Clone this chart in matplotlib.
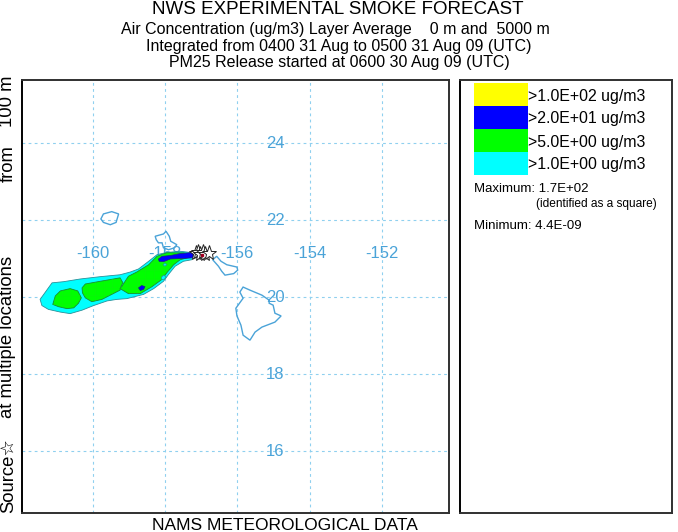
import matplotlib
matplotlib.use('Agg')
import matplotlib.pyplot as plt

plt.rcParams['font.family'] = ['Liberation Sans', 'DejaVu Sans']
plt.rcParams['hatch.linewidth'] = 0.25

W, H = 678, 532
line_blue = '#4aa3d8'
grid_blue = '#8fd0ef'
frame = '#303030'

lon_ticks = [-160, -158, -156, -154, -152]
lat_ticks = [16, 18, 20, 22, 24]
legend_labels = ['>1.0E+02 ug/m3', '>2.0E+01 ug/m3', '>5.0E+00 ug/m3', '>1.0E+00 ug/m3']
legend_colors = ['#ffff00', '#0000ff', '#00ff00', '#00ffff']

# coastlines
kauai_lon = [-159.77, -159.70, -159.47, -159.28, -159.35, -159.51, -159.70]
kauai_lat = [22.03, 22.16, 22.22, 22.16, 21.94, 21.88, 21.94]
oahu_lon = [-158.27, -158.04, -157.97, -157.88, -157.84, -157.67, -157.74, -157.90, -158.04, -158.08, -158.18, -158.24]
oahu_lat = [21.58, 21.64, 21.71, 21.58, 21.45, 21.36, 21.28, 21.23, 21.28, 21.41, 21.41, 21.49]
maui_lon = [-156.68, -156.57, -156.45, -156.29, -156.01, -155.99, -156.10, -156.34, -156.43, -156.52]
maui_lat = [20.97, 21.06, 20.93, 20.84, 20.78, 20.70, 20.61, 20.57, 20.67, 20.80]
hawaii_lon = [-155.84, -155.65, -155.32, -155.12, -155.12, -155.01, -154.96, -154.79, -154.96, -155.32, -155.51, -155.65, -155.84, -155.90, -156.01, -156.04, -155.84, -155.93]
hawaii_lat = [20.26, 20.18, 20.05, 19.92, 19.84, 19.79, 19.58, 19.51, 19.35, 19.22, 19.09, 18.88, 19.01, 19.27, 19.51, 19.71, 19.97, 20.13]

# smoke contours
cyan_lon = [-161.45, -161.35, -161.22, -161.12, -160.80, -160.34, -159.79, -159.24, -158.96, -158.73, -158.45, -158.22, -157.95, -157.58, -157.21, -157.12, -157.26, -157.49, -157.72, -157.90, -158.04, -158.31, -158.59, -159.05, -159.33, -159.60, -159.97, -160.29, -160.62, -160.89, -161.22, -161.40]
cyan_lat = [19.94, 20.07, 20.24, 20.37, 20.40, 20.47, 20.53, 20.58, 20.65, 20.73, 20.93, 21.10, 21.16, 21.19, 21.15, 21.10, 20.97, 20.93, 20.80, 20.59, 20.41, 20.22, 20.07, 19.96, 19.94, 19.90, 19.78, 19.66, 19.57, 19.61, 19.68, 19.78]
green1_lon = [-161.10, -161.03, -160.89, -160.62, -160.41, -160.31, -160.39, -160.52, -160.71, -160.94]
green1_lat = [19.81, 20.03, 20.16, 20.22, 20.16, 19.98, 19.84, 19.72, 19.70, 19.75]
green2_lon = [-160.29, -160.20, -159.79, -159.42, -159.24, -159.16, -159.22, -159.24, -159.47, -159.74, -160.02, -160.20, -160.28]
green2_lat = [20.24, 20.34, 20.41, 20.47, 20.50, 20.37, 20.27, 20.18, 20.07, 19.94, 19.88, 19.98, 20.11]
green3_lon = [-159.19, -159.01, -158.78, -158.45, -158.22, -157.95, -157.49, -157.21, -157.30, -157.58, -157.76, -157.95, -158.08, -158.36, -158.68, -159.01, -159.24]
green3_lat = [20.28, 20.54, 20.65, 20.84, 21.06, 21.15, 21.15, 21.10, 21.04, 20.97, 20.84, 20.63, 20.46, 20.27, 20.09, 20.09, 20.22]
hole1_lon = [-158.10, -158.03, -157.97, -158.02, -158.09]
hole1_lat = [20.52, 20.57, 20.52, 20.46, 20.46]
hole2_lon = [-158.05, -158.00, -157.95, -158.00]
hole2_lat = [20.84, 20.88, 20.84, 20.80]
blue1_lon = [-158.18, -158.08, -157.85, -157.58, -157.21, -156.93, -156.93, -157.21, -157.58, -157.85, -158.04, -158.16]
blue1_lat = [20.99, 21.06, 21.08, 21.13, 21.16, 21.15, 21.04, 21.02, 21.00, 20.99, 20.92, 20.93]
blue2_lon = [-158.73, -158.64, -158.55, -158.59, -158.68]
blue2_lat = [20.24, 20.30, 20.27, 20.20, 20.17]
source_lon = [-157.15, -157.08, -157.02, -156.95, -156.90, -156.78]
source_lat = [21.15, 21.18, 21.13, 21.16, 21.12, 21.14]
max_lon = [-156.98]
max_lat = [21.10]

fig = plt.figure(figsize=(W / 100, H / 100), dpi=100)

ax = fig.add_axes([22 / W, 1 - 513 / H, (449 - 22) / W, (513 - 80) / H])
ax.set_xlim(-161.95, -150.15)
ax.set_ylim(14.39, 25.64)
ax.set_xticks([])
ax.set_yticks([])
for s in ax.spines.values():
    s.set_linewidth(1.4)
    s.set_color(frame)
ax.spines['left'].set_color('black')

for lon in lon_ticks:
    ax.axvline(lon, color=grid_blue, lw=0.8, ls=(0, (2.5, 3)), zorder=1)
    ax.text(lon, 21.12, str(lon), color=line_blue, fontsize=12, ha='center', va='center', zorder=2)
for lat in lat_ticks:
    ax.axhline(lat, color=grid_blue, lw=0.8, ls=(0, (2.5, 3)), zorder=1)
    ax.text(-154.95, lat, str(lat), color=line_blue, fontsize=12, ha='center', va='center', zorder=2)

for lons, lats in [(kauai_lon, kauai_lat), (oahu_lon, oahu_lat), (maui_lon, maui_lat), (hawaii_lon, hawaii_lat)]:
    ax.fill(lons, lats, facecolor='none', edgecolor=line_blue, lw=1.0, zorder=3)

ax.fill(cyan_lon, cyan_lat, facecolor='#00ffff', edgecolor='#2a8f99', lw=0.6, joinstyle='round', zorder=4)
for lons, lats in [(green1_lon, green1_lat), (green2_lon, green2_lat), (green3_lon, green3_lat)]:
    ax.fill(lons, lats, facecolor='#00ff00', edgecolor='#1a8a30', lw=0.6, joinstyle='round', zorder=5)
    ax.fill(lons, lats, facecolor='none', edgecolor='#10ee10', hatch='++', lw=0, zorder=5)
for lons, lats in [(hole1_lon, hole1_lat), (hole2_lon, hole2_lat)]:
    ax.fill(lons, lats, facecolor='#00ffff', edgecolor='#2a8f99', lw=0.5, zorder=6)
for lons, lats in [(blue1_lon, blue1_lat), (blue2_lon, blue2_lat)]:
    ax.fill(lons, lats, facecolor='#0000ff', edgecolor='#202080', lw=0.5, zorder=7)

ax.plot(source_lon, source_lat, ls='none', marker='*', ms=11, mfc='white', mec='#222222', mew=0.7, zorder=8)
ax.plot(max_lon, max_lat, ls='none', marker='s', ms=2, color='#a00020', zorder=9)

# legend panel, in pixels
leg = fig.add_axes([460 / W, 1 - 513 / H, (672 - 460) / W, (513 - 80) / H])
leg.set_xlim(460, 672)
leg.set_ylim(513, 80)
leg.set_xticks([])
leg.set_yticks([])
for s in leg.spines.values():
    s.set_linewidth(1.4)
    s.set_color(frame)
leg.spines['left'].set_color('black')
for i in range(len(legend_labels)):
    leg.bar(501, 23, width=54, bottom=83 + i * 23, color=legend_colors[i], linewidth=0)
    leg.text(528, 96 + i * 23, legend_labels[i], fontsize=11.4, va='center', ha='left')
leg.text(474, 189, 'Maximum: 1.7E+02', fontsize=9.5, va='center')
leg.text(536, 204, '(identified as a square)', fontsize=8.6, va='center')
leg.text(474, 226, 'Minimum: 4.4E-09', fontsize=9.5, va='center')

fig.text(338 / W, 1 - 13.5 / H, 'NWS EXPERIMENTAL SMOKE FORECAST', fontsize=13.5, ha='center', va='baseline')
fig.text(335.5 / W, 1 - 34 / H, 'Air Concentration (ug/m3) Layer Average    0 m and  5000 m', fontsize=11.5, ha='center', va='baseline')
fig.text(339 / W, 1 - 50.5 / H, 'Integrated from 0400 31 Aug to 0500 31 Aug 09 (UTC)', fontsize=11.5, ha='center', va='baseline')
fig.text(339 / W, 1 - 67 / H, 'PM25 Release started at 0600 30 Aug 09 (UTC)', fontsize=11.5, ha='center', va='baseline')
fig.text(285 / W, 1 - 525 / H, 'NAMS METEOROLOGICAL DATA', fontsize=12.5, ha='center', va='center')

fig.text(8 / W, 1 - 513 / H, 'Source\u2606', fontsize=13.3, rotation=90, ha='center', va='bottom')
fig.text(8 / W, 1 - 418 / H, 'at multiple locations', fontsize=13.3, rotation=90, ha='center', va='bottom')
fig.text(8 / W, 1 - 182 / H, 'from', fontsize=13.3, rotation=90, ha='center', va='bottom')
fig.text(8 / W, 1 - 127 / H, '100 m', fontsize=13.3, rotation=90, ha='center', va='bottom')

fig.savefig('out.png', dpi=100)
